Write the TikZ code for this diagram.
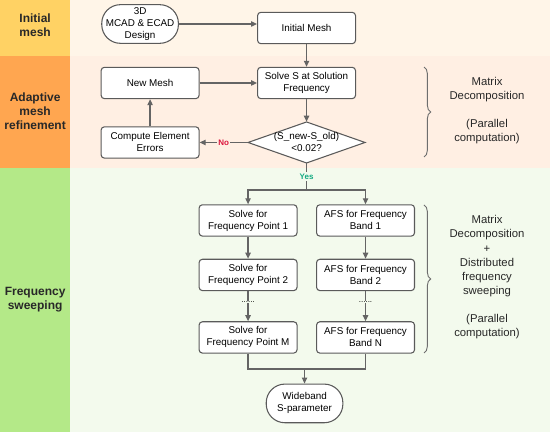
\documentclass[tikz,border=0pt]{standalone}
\usepackage{amsmath}
\usepackage{fontspec}
\setmainfont{Liberation Sans}
\usetikzlibrary{arrows.meta,decorations.pathreplacing}

\begin{document}
\begin{tikzpicture}[x=0.75pt,y=0.75pt,yscale=-1,xscale=1,
  procbox/.style={draw={rgb,255:red,90;green,90;blue,90},fill=white,line width=0.8pt,rounded corners=2.5pt,minimum width=73.5pt,minimum height=23.5pt,inner sep=0pt,align=center,font=\fontsize{7.4}{9}\selectfont},
  termbox/.style={procbox,rounded corners=14pt,minimum width=57.5pt,minimum height=29pt},
  flow/.style={draw={rgb,255:red,100;green,100;blue,100},line width=0.9pt,-{Triangle[length=4.5pt,width=4pt]}},
  link/.style={flow,-},
  lanetext/.style={align=center,font=\fontsize{9}{10.7}\selectfont\bfseries,text={rgb,255:red,40;green,40;blue,40}},
  notetext/.style={align=center,font=\fontsize{8.5}{10.6}\selectfont,text={rgb,255:red,40;green,40;blue,40}},
  bracket/.style={decorate,decoration={brace,amplitude=5pt},draw={rgb,255:red,110;green,110;blue,110},line width=0.7pt},
  answer/.style={font=\fontsize{6}{7}\selectfont\bfseries,inner sep=1pt},
  gap/.style={inner sep=0.5pt,font=\fontsize{6}{6}\selectfont}
]
%Shape: lanes
\fill [color={rgb, 255:red, 255; green, 210; blue, 100 }] (0,0) rectangle (70,56) ;
\fill [color={rgb, 255:red, 255; green, 245; blue, 232 }] (70,0) rectangle (550,56) ;
\fill [color={rgb, 255:red, 255; green, 166; blue, 80 }] (0,56) rectangle (70,168) ;
\fill [color={rgb, 255:red, 255; green, 239; blue, 227 }] (70,56) rectangle (550,168) ;
\fill [color={rgb, 255:red, 180; green, 233; blue, 136 }] (0,168) rectangle (70,432) ;
\fill [color={rgb, 255:red, 243; green, 250; blue, 237 }] (70,168) rectangle (550,432) ;

% Text Node
\node [lanetext] (laneinit) at (35,25) {Initial\\mesh};
% Text Node
\node [lanetext] (laneadapt) at (35,111) {Adaptive\\mesh\\refinement};
% Text Node
\node [lanetext] (lanesweep) at (35,300) {Frequency\\sweeping};

%Shape: initial mesh
\node [termbox] (design) at (140,24) {3D\\MCAD \& ECAD\\Design};
\node [procbox] (init) at (306.5,28) {Initial Mesh};

%Shape: adaptive loop
\node [procbox] (newmesh) at (150,83) {New Mesh};
\node [procbox] (solve) at (306.5,83) {Solve S at Solution\\Frequency};
\node [procbox] (errors) at (150,142.5) {Compute Element\\Errors};
\draw [draw={rgb,255:red,90;green,90;blue,90},fill=white,line width=0.8pt] (306.5,122) -- (365,142.5) -- (306.5,163) -- (248,142.5) -- cycle ;
\node [minimum width=87.75pt,minimum height=30.75pt,inner sep=0pt,align=center,font=\fontsize{7.4}{9}\selectfont] (check) at (306.5,142.5) {(S\_new-S\_old)\\<0.02?};

%Shape: frequency sweeping
\node [procbox] (p1) at (248,220.5) {Solve for\\Frequency Point 1};
\node [procbox] (p2) at (248,275) {Solve for\\Frequency Point 2};
\node [procbox] (pm) at (248,337.5) {Solve for\\Frequency Point M};
\node [procbox] (b1) at (365.5,220.5) {AFS for Frequency\\Band 1};
\node [procbox] (b2) at (365.5,275) {AFS for Frequency\\Band 2};
\node [procbox] (bn) at (365.5,337.5) {AFS for Frequency\\Band N};
\node [termbox] (wide) at (304.5,403.5) {Wideband\\S-parameter};
\node [gap] (dotsp) at (248,302) {......};
\node [gap] (dotsb) at (365.5,302) {......};
\coordinate (split) at (306.5,190) ;
\coordinate (merge) at (304.5,369) ;

% Connectors
\draw [flow] (design.east) -- (design.east -| init.west) ;
\draw [flow] (init.south) -- (solve.north) ;
\draw [flow] (newmesh.east) -- (solve.west) ;
\draw [flow] (solve.south) -- (check.north) ;
\draw [flow] (check.west) -- node [answer,fill={rgb,255:red,255;green,239;blue,227},text={rgb,255:red,220;green,20;blue,60}] (no) {No} (errors.east) ;
\draw [flow] (errors.north) -- (newmesh.south) ;
\draw [flow] (check.south) -- node [answer,fill={rgb,255:red,243;green,250;blue,237},text={rgb,255:red,20;green,170;blue,130}] (yes) {Yes} (split) -| (p1.north) ;
\draw [flow] (split) -| (b1.north) ;
\draw [flow] (p1.south) -- (p2.north) ;
\draw [flow] (b1.south) -- (b2.north) ;
\draw [link] (p2.south) -- (dotsp.north) ;
\draw [link] (b2.south) -- (dotsb.north) ;
\draw [flow] (dotsp.south) -- (pm.north) ;
\draw [flow] (dotsb.south) -- (bn.north) ;
\draw [link] (pm.south) |- (merge) ;
\draw [link] (bn.south) |- (merge) ;
\draw [flow] (merge) -- (wide.north) ;

%Shape: braces
\draw [bracket] (424,67) -- (424,157) ;
\draw [bracket] (424,205) -- (424,353) ;
% Text Node
\node [notetext] (note1) at (487,110.5) {Matrix\\Decomposition\\[10.6pt](Parallel\\computation)};
% Text Node
\node [notetext] (note2) at (487,277.5) {Matrix\\Decomposition\\+\\Distributed\\frequency\\sweeping\\[10.6pt](Parallel\\computation)};

\end{tikzpicture}
\end{document}
